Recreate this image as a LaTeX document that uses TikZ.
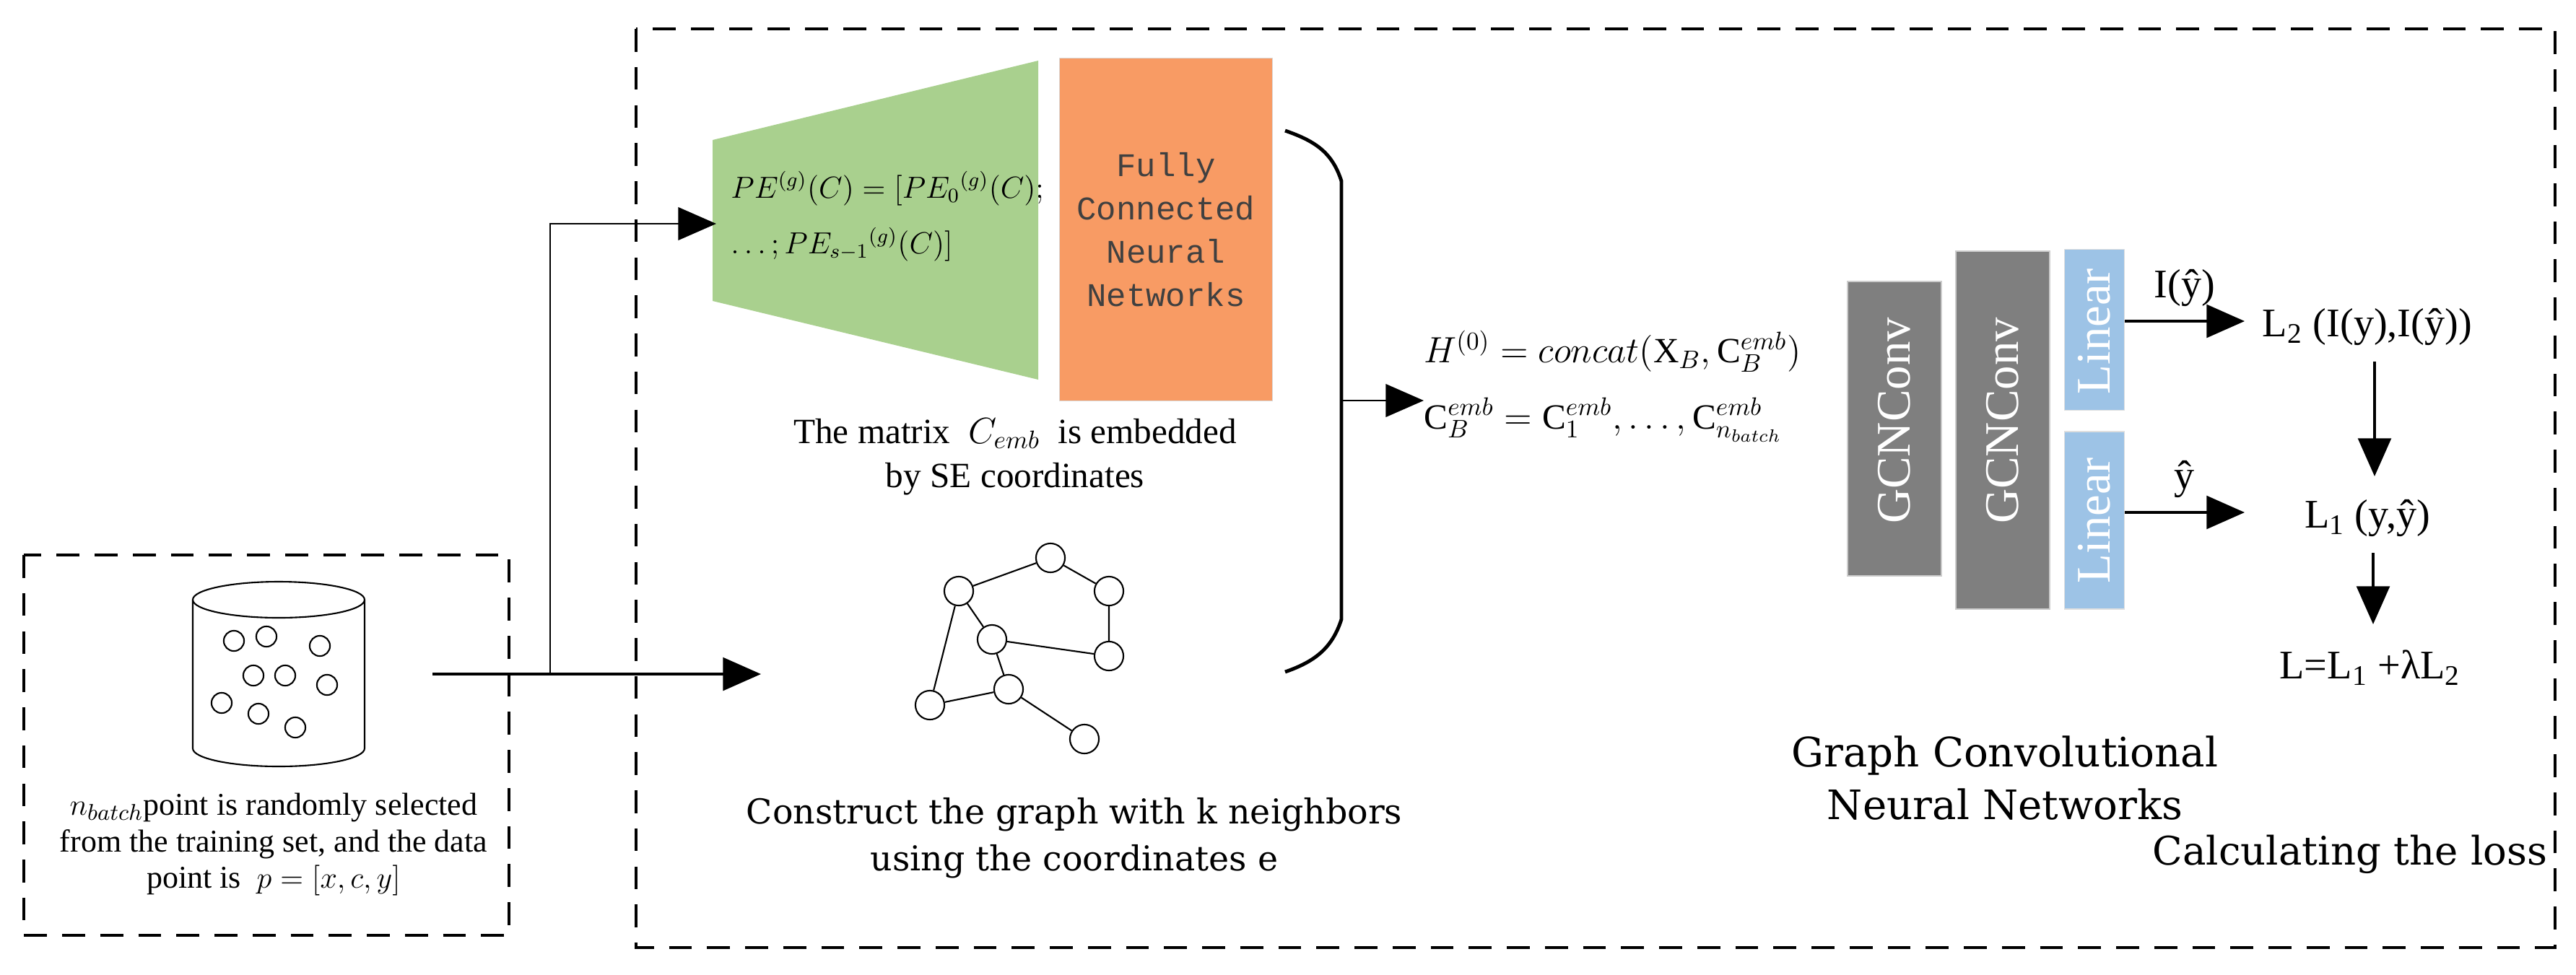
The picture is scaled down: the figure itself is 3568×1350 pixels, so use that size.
\documentclass[tikz,border=0pt]{standalone}
\usepackage{fontspec}
\setmainfont{Liberation Serif}
\newfontfamily\monof{Liberation Mono}
\newfontfamily\capf{DejaVu Serif}
\usetikzlibrary{arrows.meta,calc}
\definecolor{pegreen}{RGB}{169,208,142}
\definecolor{fcorange}{RGB}{248,155,100}
\definecolor{gcngray}{RGB}{127,127,127}
\definecolor{linblue}{RGB}{157,195,230}
\begin{document}
\begin{tikzpicture}[x=0.01cm,y=-0.01cm,
  dashbox/.style={draw,line width=1.4pt,dash pattern=on 9pt off 6pt},
  big/.style={-{Triangle[length=15pt,width=13pt]}},
  thickln/.style={line width=1.1pt},
  thinln/.style={line width=0.6pt},
  gnode/.style={draw,circle,minimum size=11.4pt,inner sep=0pt,fill=white,line width=0.6pt},
  dot/.style={draw,circle,minimum size=8pt,inner sep=0pt,line width=0.6pt},
  capt/.style={align=center},
  gcn/.style={fill=gcngray,draw=gray!40,inner sep=0pt},
  lin/.style={fill=linblue,draw=gray!25,inner sep=0pt},
  vtext/.style={rotate=90,text=white,font=\fontsize{19}{22}\selectfont}]
\useasboundingbox (0,0) rectangle (3568,1350);
% boxes
\draw[dashbox] (33,769) rectangle (705,1296);
\draw[dashbox] (881,40) rectangle (3539,1313);
% cylinder
\draw[thinln] (267,831) -- (267,1037) arc[start angle=180,end angle=360,x radius=119,y radius=-25] -- (505,831);
\draw[thinln] (386,831) ellipse[x radius=119,y radius=25];
\foreach \p in {(324,888),(369,882),(443,895),(351,936),(395,936),(453,949),(307,974),(358,989),(409,1008)}
  \node[dot] at \p {};
\node[capt,font=\fontsize{12.5}{14.5}\selectfont] (lcap) at (379,1170) {$n_{batch}$point is randomly selected\\from the training set, and the data\\point is~ $p=[x,c,y]$};
% green trapezoid & orange
\fill[pegreen] (987,194) -- (1438,84) -- (1438,526) -- (987,417) -- cycle;
\node[coordinate] (pe) at (992,310) {};
\node[anchor=west,align=left,font=\fontsize{11.5}{22}\selectfont] (pet) at (1000,300) {$PE^{(g)}(C)=[PE_0{}^{(g)}(C);$\\$\ldots;PE_{s-1}{}^{(g)}(C)]$};
\node[fill=fcorange,draw=gray!30,minimum width=84pt,minimum height=135pt,inner sep=0pt] (fc) at (1615,318) {};
\node[align=center,font=\monof\fontsize{13}{17}\selectfont,text=black!75] at (1615,318) {Fully\\Connected\\Neural\\Networks};
\node[capt,font=\fontsize{14}{17.5}\selectfont] at (1406,633) {The matrix~ $C_{emb}$~ is embedded\\by SE coordinates};
% graph
\node[gnode] (A) at (1328,819) {};
\node[gnode] (B) at (1455,773) {};
\node[gnode] (C) at (1536,819) {};
\node[gnode] (D) at (1374,886) {};
\node[gnode] (E) at (1536,909) {};
\node[gnode] (F) at (1397,955) {};
\node[gnode] (G) at (1288,977) {};
\node[gnode] (H) at (1502,1024) {};
\draw[thinln] (A)--(B) (B)--(C) (C)--(E) (D)--(E) (A)--(D) (D)--(F) (A)--(G) (G)--(F) (F)--(H);
\node[capt,font=\capf\fontsize{13.5}{18.5}\selectfont] at (1488,1161) {Construct the graph with k neighbors\\using the coordinates e};
% input arrows
\node[coordinate] (start) at (599,934) {};
\node[coordinate] (split) at (762,934) {};
\node[coordinate] (gin) at (1054,934) {};
\node[coordinate] (up) at (762,310) {};
\draw[thickln,big] (start) -- (gin);
\draw[thinln,big] (split) -- (up) -- (pe);
% brace
\draw[line width=1.4pt] (1780,181) .. controls (1820,195) and (1845,210) .. (1858,251) -- (1858,858) .. controls (1845,899) and (1820,917) .. (1780,931);
\node[coordinate] (bt) at (1858,555) {};
\node[coordinate] (bh) at (1972,555) {};
\draw[thinln,big] (bt) -- (bh);
\node[anchor=west,align=left,font=\fontsize{14}{26}\selectfont] (hf) at (1960,535) {$H^{(0)}=concat(\mathrm{X}_B,\mathrm{C}_B^{emb})$\\$\mathrm{C}_B^{emb}=\mathrm{C}_1^{emb},\ldots,\mathrm{C}_{n_{batch}}^{emb}$};
% GCN
\node[gcn,minimum width=37pt,minimum height=116pt] (g1) at (2624,594) {};
\node[gcn,minimum width=37pt,minimum height=141pt] (g2) at (2774,596) {};
\node[lin,minimum width=23.6pt,minimum height=63.4pt] (l1) at (2901,457) {};
\node[lin,minimum width=23.6pt,minimum height=70pt] (l2) at (2901,721) {};
\node[vtext] at (2624,583) {GCNConv};
\node[vtext] at (2774,583) {GCNConv};
\node[vtext] at (2901,459) {Linear};
\node[vtext] at (2901,721) {Linear};
\node[capt,font=\capf\fontsize{16}{21}\selectfont] at (2777,1078) {Graph Convolutional\\Neural Networks};
% loss
\node[font=\fontsize{16}{20}\selectfont] (L2) at (3279,453) {L\textsubscript{2} (I(y),I(\^{y}))};
\node[font=\fontsize{16}{20}\selectfont] (L1) at (3279,718) {L\textsubscript{1} (y,\^{y})};
\node[font=\fontsize{16}{20}\selectfont] (L) at (3283,925) {L=L\textsubscript{1} +λL\textsubscript{2}};
\node[coordinate] (o1) at (2943,445) {};
\node[coordinate] (o2) at (2943,710) {};
\node[coordinate] (t1) at (3109,445) {};
\node[coordinate] (t2) at (3109,710) {};
\draw[thickln,big] (o1) -- node[above,font=\fontsize{16}{20}\selectfont,yshift=2pt] {I(\^{y})} (t1);
\draw[thickln,big] (o2) -- node[above,font=\fontsize{16}{20}\selectfont,yshift=2pt] {\^{y}} (t2);
\draw[thickln,big] (L2) ++(10,48) coordinate (d1s) -- (3289,660) coordinate (d1e);
\draw[thickln,big] (L1) ++(8,48) coordinate (d2s) -- (3287,865) coordinate (d2e);
\node[font=\capf\fontsize{15.5}{20}\selectfont] at (3255,1184) {Calculating the loss};
\end{tikzpicture}
\end{document}
